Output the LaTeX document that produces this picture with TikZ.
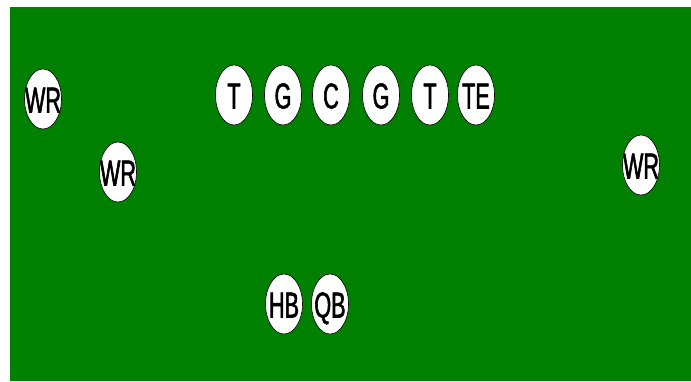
\documentclass[tikz,border=0pt]{standalone}
\usepackage{fontspec}
\usetikzlibrary{shapes.geometric}
\newfontfamily\playerfont[FakeStretch=0.6,FakeBold=1.5]{Liberation Sans}
\definecolor{field}{RGB}{0,128,0}
\tikzset{
  ptext/.style={inner sep=0pt, text height=27pt, text depth=0pt,
    font=\playerfont\fontsize{36}{36}\selectfont},
  player/.style={ellipse, draw=black, line width=0.6pt, fill=white,
    minimum width=37pt, minimum height=60pt, inner sep=0pt,
    label={[ptext]center:#1}}
}
\begin{document}
\begin{tikzpicture}[x=1pt,y=-1pt]
\useasboundingbox (0,0) rectangle (691,381);
\fill[field] (10,7) rectangle (691,381);
\node[player=WR] (wr1) at (43,99) {};
\node[player=WR] (wr2) at (118,172) {};
\node[player=T] (lt) at (234,95) {};
\node[player=G] (lg) at (283,95) {};
\node[player=C] (c) at (331,95) {};
\node[player=G] (rg) at (381,95) {};
\node[player=T] (rt) at (430,95) {};
\node[player=TE] (te) at (476,95) {};
\node[player=WR] (wr3) at (641,165) {};
\node[player=HB] (hb) at (284,304) {};
\node[player=QB] (qb) at (330,304) {};
\end{tikzpicture}
\end{document}
